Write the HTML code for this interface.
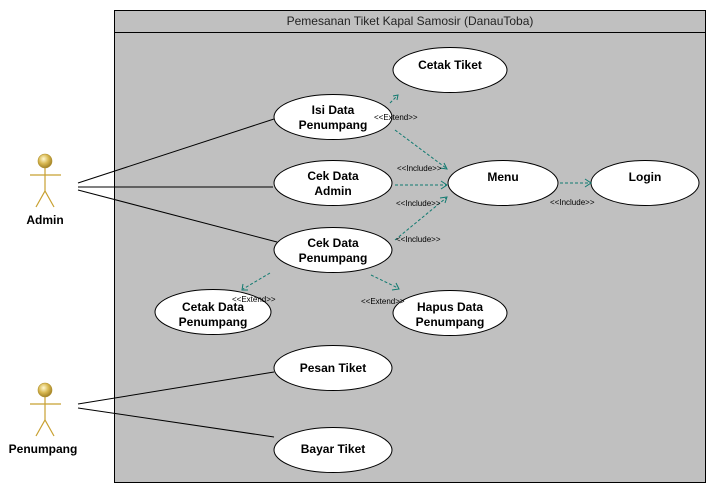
<!DOCTYPE html>
<html><head><meta charset="utf-8"><style>
html,body{margin:0;padding:0;background:#fff;}
svg{display:block;}
text{font-family:"Liberation Sans",Arial,sans-serif;}
.uc{font-size:12px;font-weight:bold;text-anchor:middle;fill:#000;}
.st{font-size:8px;fill:#000;}
.d{stroke:#107a70;stroke-width:1;stroke-dasharray:3,2;fill:none;}
.ah{stroke:#107a70;stroke-width:1;fill:none;}
</style></head><body>
<svg width="716" height="493" viewBox="0 0 716 493" xmlns="http://www.w3.org/2000/svg">
<defs>
<radialGradient id="hg" cx="0.4" cy="0.35" r="0.7"><stop offset="0" stop-color="#fff8d0"/><stop offset="0.5" stop-color="#d8b850"/><stop offset="1" stop-color="#9a7a20"/></radialGradient>
</defs>
<rect x="114.5" y="10.5" width="591" height="472" fill="#c0c0c0" stroke="#000"/>
<line x1="115" y1="32.5" x2="705" y2="32.5" stroke="#000"/>
<text x="410" y="25" font-size="12" text-anchor="middle" fill="#222">Pemesanan Tiket Kapal Samosir (DanauToba)</text>

<g stroke="#000" stroke-width="1" fill="none">
<line x1="78" y1="183" x2="274" y2="119"/>
<line x1="78" y1="187" x2="273" y2="187"/>
<line x1="78" y1="190" x2="277" y2="242"/>
<line x1="78" y1="404" x2="274" y2="372"/>
<line x1="78" y1="408" x2="274" y2="437"/>
</g>

<g fill="#fff" stroke="#000">
<ellipse cx="450" cy="70" rx="57" ry="22.5"/>
<ellipse cx="333" cy="117" rx="59" ry="22.5"/>
<ellipse cx="333" cy="183" rx="59" ry="22.5"/>
<ellipse cx="333" cy="250" rx="59" ry="22.5"/>
<ellipse cx="503" cy="183" rx="55" ry="22.5"/>
<ellipse cx="645" cy="183" rx="54" ry="22.5"/>
<ellipse cx="213" cy="312" rx="58" ry="22.5"/>
<ellipse cx="450" cy="313" rx="57" ry="22.5"/>
<ellipse cx="333" cy="368" rx="59" ry="22.5"/>
<ellipse cx="333" cy="450" rx="59" ry="22.5"/>
</g>

<text class="uc" x="450" y="69">Cetak Tiket</text>
<text class="uc" x="333" y="114">Isi Data</text><text class="uc" x="333" y="129">Penumpang</text>
<text class="uc" x="333" y="180">Cek Data</text><text class="uc" x="333" y="195">Admin</text>
<text class="uc" x="333" y="247">Cek Data</text><text class="uc" x="333" y="262">Penumpang</text>
<text class="uc" x="503" y="181">Menu</text>
<text class="uc" x="645" y="181">Login</text>
<text class="uc" x="213" y="311">Cetak Data</text><text class="uc" x="213" y="326">Penumpang</text>
<text class="uc" x="450" y="311">Hapus Data</text><text class="uc" x="450" y="326">Penumpang</text>
<text class="uc" x="333" y="372">Pesan Tiket</text>
<text class="uc" x="333" y="453">Bayar Tiket</text>

<!-- dashed connectors -->
<line class="d" x1="390" y1="103" x2="397" y2="96"/>
<path class="ah" d="M393,96 L398,95 L397,100"/>
<line class="d" x1="395" y1="130" x2="446" y2="168"/>
<path class="ah" d="M440,168 L447,169 L444,163"/>
<line class="d" x1="395" y1="185" x2="446" y2="185"/>
<path class="ah" d="M441,181 L447,185 L441,189"/>
<line class="d" x1="395" y1="240" x2="446" y2="198"/>
<path class="ah" d="M440,198 L447,197 L445,203"/>
<line class="d" x1="560" y1="183" x2="590" y2="183"/>
<path class="ah" d="M585,179 L591,183 L585,187"/>
<line class="d" x1="270" y1="273" x2="243" y2="289"/>
<path class="ah" d="M243,284 L242,290 L248,290"/>
<line class="d" x1="371" y1="275" x2="398" y2="288"/>
<path class="ah" d="M392,290 L399,289 L396,283"/>

<text class="st" x="374" y="120">&lt;&lt;Extend&gt;&gt;</text>
<text class="st" x="397" y="171">&lt;&lt;Include&gt;&gt;</text>
<text class="st" x="396" y="206">&lt;&lt;Include&gt;&gt;</text>
<text class="st" x="396" y="242">&lt;&lt;Include&gt;&gt;</text>
<text class="st" x="550" y="205">&lt;&lt;Include&gt;&gt;</text>
<text class="st" x="232" y="302">&lt;&lt;Extend&gt;&gt;</text>
<text class="st" x="361" y="304">&lt;&lt;Extend&gt;&gt;</text>

<!-- actors -->
<g stroke="#c8a030" stroke-width="1.2" fill="none">
<line x1="45" y1="168" x2="45" y2="191"/>
<line x1="30" y1="175" x2="61" y2="175"/>
<path d="M36,207 L45,191 L54,207"/>
<line x1="45" y1="397" x2="45" y2="420"/>
<line x1="30" y1="404" x2="61" y2="404"/>
<path d="M36,436 L45,420 L54,436"/>
</g>
<circle cx="45" cy="161" r="7" fill="url(#hg)" stroke="#b09030" stroke-width="0.6"/>
<circle cx="45" cy="390" r="7" fill="url(#hg)" stroke="#b09030" stroke-width="0.6"/>
<text class="uc" x="45" y="224">Admin</text>
<text class="uc" x="43" y="453">Penumpang</text>
</svg>
</body></html>
